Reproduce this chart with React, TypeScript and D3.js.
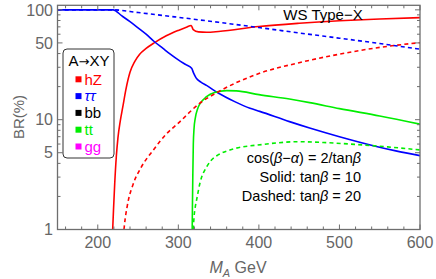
import React from "react";
import * as d3 from "d3";

// A -> XY branching ratios, WS Type-X
const hzSolid: [number, number][] = [
  [218.5, 1], [219.5, 1.5], [221, 2.6], [223, 4.6], [225, 6.8], [228, 9.8], [231, 13],
  [235, 19], [240, 27], [246, 34], [252, 39.5], [260, 44.5], [270, 50], [285, 58],
  [300, 65], [310, 69.5], [316, 72], [318.5, 66], [325, 63], [335, 62.5], [350, 63.5],
  [400, 70.5], [450, 75.5], [500, 79.5], [550, 82.5], [600, 85],
];
const hzDashed: [number, number][] = [
  [232.5, 1], [234, 1.25], [236, 1.55], [238, 1.85], [244, 2.6], [254, 3.7], [269, 5.3],
  [285, 7.4], [300, 9.3], [326, 14], [350, 18], [400, 26.3], [450, 33], [500, 39.5],
  [550, 45.5], [600, 50.3],
];
const tautauSolid: [number, number][] = [
  [150, 100], [219, 100], [230, 88], [240, 78], [250, 68.5], [260, 60], [270, 51.5],
  [281, 44.5], [290, 39.5], [300, 35], [310, 31.5], [316.5, 29.4], [319, 26.5],
  [322, 24], [328, 22], [335, 20.5], [350, 17.4], [370, 14.6], [389, 12.7], [401, 11.9],
  [438, 9.6], [463, 8.4], [500, 7], [542, 5.8], [570, 5.2], [600, 4.7],
];
const tautauDashed: [number, number][] = [
  [150, 100], [219, 100], [250, 94.5], [300, 85.5], [350, 77], [400, 69], [450, 61.6],
  [500, 55.2], [550, 49.4], [600, 43.8],
];
const ttSolid: [number, number][] = [
  [317.2, 1], [317.5, 1.6], [318, 3.2], [318.6, 6], [319.5, 8.3], [321, 10.3],
  [324, 12.6], [327, 14], [335, 16.2], [345, 17.7], [360, 18.4], [372, 18.3],
  [400, 16.9], [438, 15.4], [463, 14.3], [500, 12.6], [550, 10.8], [600, 9.1],
];
const ttDashed: [number, number][] = [
  [318.5, 1], [319.5, 1.3], [321, 1.6], [322.7, 1.86], [326.8, 2.64], [335, 3.7],
  [340, 4.2], [350, 4.8], [364, 5.3], [405, 5.95], [450, 6.3], [480, 6.2], [520, 5.95],
  [560, 5.65], [600, 5.3],
];

const legendLabels = ["hZ", "ττ", "bb", "tt", "gg"];
const legendColors = ["#ff0000", "#0000ff", "#000000", "#00ee00", "#ff00ff"];

const xMajor = [200, 300, 400, 500, 600];
const xMinor = d3.range(160, 600, 20).filter((v) => !xMajor.includes(v));
const yMajor = [1, 5, 10, 50, 100];
const yMinor = [2, 3, 4, 6, 7, 8, 9, 20, 30, 40, 60, 70, 80, 90];

const W = 436;
const H = 279;
const frame = { left: 57.5, right: 420, top: 5.3, bottom: 229.5 };

const x = d3.scaleLinear().domain([150, 600]).range([frame.left, frame.right]);
const y = d3.scaleLog().domain([1, 110]).range([frame.bottom, frame.top]);

const line = d3
  .line<[number, number]>()
  .x((d) => x(d[0]))
  .y((d) => y(d[1]))
  .curve(d3.curveMonotoneX);

const curves = [
  { data: hzSolid, color: "#ff0000", dash: null },
  { data: tautauSolid, color: "#0000ff", dash: null },
  { data: ttSolid, color: "#00ee00", dash: null },
  { data: hzDashed, color: "#ff0000", dash: "4,3.2" },
  { data: tautauDashed, color: "#0000ff", dash: "4,3.2" },
  { data: ttDashed, color: "#00ee00", dash: "4,3.2" },
];

const axisColor = "#6e6e6e";
const labelColor = "#666";
const font = "'Liberation Sans', Arial, sans-serif";

export default function App() {
  return (
    <svg
      width={W}
      height={H}
      style={{ position: "absolute", left: 0, top: 0, background: "#fff" }}
      fontFamily={font}
    >
      <defs>
        <clipPath id="plotClip">
          <rect x={frame.left} y={frame.top} width={frame.right - frame.left} height={frame.bottom - frame.top} />
        </clipPath>
      </defs>

      {/* curves */}
      <g clipPath="url(#plotClip)" fill="none" strokeWidth={1.6}>
        {curves.map((c, i) => (
          <path key={i} d={line(c.data) || ""} stroke={c.color} strokeDasharray={c.dash || undefined} />
        ))}
      </g>

      {/* frame + ticks */}
      <g stroke={axisColor} strokeWidth={1}>
        {xMajor.map((v) => (
          <g key={"xM" + v}>
            <line x1={x(v)} x2={x(v)} y1={frame.bottom} y2={frame.bottom - 5} />
            <line x1={x(v)} x2={x(v)} y1={frame.top} y2={frame.top + 5} />
          </g>
        ))}
        {xMinor.map((v) => (
          <g key={"xm" + v}>
            <line x1={x(v)} x2={x(v)} y1={frame.bottom} y2={frame.bottom - 3} />
            <line x1={x(v)} x2={x(v)} y1={frame.top} y2={frame.top + 3} />
          </g>
        ))}
        {yMajor.map((v) => (
          <g key={"yM" + v}>
            <line x1={frame.left} x2={frame.left + 5} y1={y(v)} y2={y(v)} />
            <line x1={frame.right} x2={frame.right - 5} y1={y(v)} y2={y(v)} />
          </g>
        ))}
        {yMinor.map((v) => (
          <g key={"ym" + v}>
            <line x1={frame.left} x2={frame.left + 3} y1={y(v)} y2={y(v)} />
            <line x1={frame.right} x2={frame.right - 3} y1={y(v)} y2={y(v)} />
          </g>
        ))}
        <rect
          x={frame.left}
          y={frame.top}
          width={frame.right - frame.left}
          height={frame.bottom - frame.top}
          fill="none"
          strokeWidth={1.3}
        />
      </g>

      {/* tick labels */}
      <g fill={labelColor} fontSize={16}>
        {xMajor.map((v) => (
          <text key={"xl" + v} x={x(v)} y={248} textAnchor="middle">
            {v}
          </text>
        ))}
        {yMajor.map((v) => (
          <text key={"yl" + v} x={53} y={y(v)} dy="0.36em" textAnchor="end">
            {v}
          </text>
        ))}
      </g>

      {/* axis titles */}
      <text
        transform={`translate(24,117) rotate(-90)`}
        textAnchor="middle"
        fill={labelColor}
        fontSize={15}
      >
        BR(%)
      </text>
      <text x={238} y={273} textAnchor="middle" fill={labelColor} fontSize={16}>
        <tspan fontStyle="italic">M</tspan>
        <tspan fontStyle="italic" fontSize={11} dy={4}>A</tspan>
        <tspan dy={-4}> GeV</tspan>
      </text>

      {/* legend */}
      <rect x={63} y={49} width={51} height={109} rx={4} fill="#fff" stroke="#333" strokeWidth={1} />
      <text x={89} y={65.5} textAnchor="middle" fontSize={15} fill="#000">
        A<tspan fontFamily="'DejaVu Sans', sans-serif" fontSize={13}>→</tspan>XY
      </text>
      {legendLabels.map((l, i) => (
        <g key={l} transform={`translate(0,${79.3 + i * 16.8})`}>
          <rect x={75.5} y={-3} width={6} height={6} fill={legendColors[i]} />
          <text
            x={84.5}
            y={0}
            dy="0.35em"
            fontSize={15}
            fill={legendColors[i]}
            fontStyle={l === "ττ" ? "italic" : "normal"}
          >
            {l}
          </text>
        </g>
      ))}

      {/* annotations */}
      <text x={323} y={19.5} textAnchor="middle" fontSize={15} fill="#000">
        WS Type−X
      </text>
      <g fontSize={14.5} fill="#000" textAnchor="end">
        <text x={361} y={163}>
          {"cos("}<tspan fontStyle="italic">β</tspan>{"−"}<tspan fontStyle="italic">α</tspan>{") = 2/tan"}<tspan fontStyle="italic">β</tspan>
        </text>
        <text x={361} y={182}>
          {"Solid: tan"}<tspan fontStyle="italic">β</tspan>{" = 10"}
        </text>
        <text x={361} y={201}>
          {"Dashed: tan"}<tspan fontStyle="italic">β</tspan>{" = 20"}
        </text>
      </g>
    </svg>
  );
}
